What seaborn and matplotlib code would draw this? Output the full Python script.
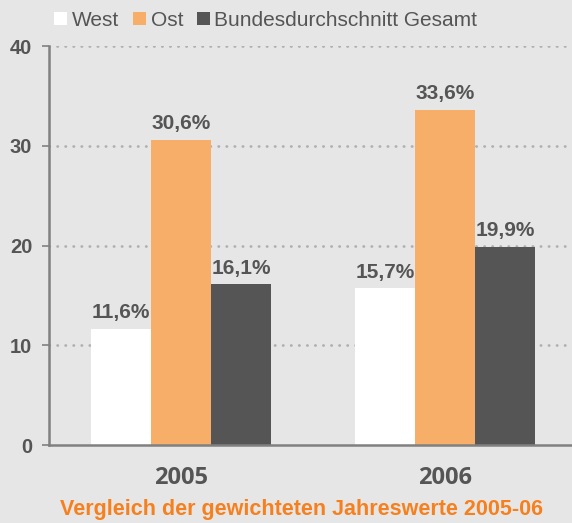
import matplotlib
matplotlib.use("Agg")
import matplotlib.pyplot as plt
import seaborn as sns
import pandas as pd
from matplotlib.patches import Patch

years = ["2005", "2006"]
series = ["West", "Ost", "Bundesdurchschnitt Gesamt"]
west = [11.6, 15.7]
ost = [30.6, 33.6]
gesamt = [16.1, 19.9]
colors = ["#ffffff", "#f7ae68", "#555555"]
title = "Vergleich der gewichteten Jahreswerte 2005-06"

rows = []
for s, vals in zip(series, [west, ost, gesamt]):
    for y, v in zip(years, vals):
        rows.append({"Jahr": y, "Serie": s, "Wert": v})
df = pd.DataFrame(rows)

sns.set_style("white")
plt.rcParams["font.family"] = ["Liberation Sans", "DejaVu Sans"]

bg = "#e6e6e6"
fig = plt.figure(figsize=(5.72, 5.23), dpi=100, facecolor=bg)
ax = fig.add_axes([0.0857, 0.149, 0.9143, 0.763], facecolor=bg)

sns.barplot(data=df, x="Jahr", y="Wert", hue="Serie", order=years,
            hue_order=series, palette=colors, width=0.68, ax=ax,
            saturation=1, linewidth=0, legend=False, zorder=3)

ax.set_ylim(0, 40)
ax.set_xlim(-0.5, 1.48)
ax.set_yticks([0, 10, 20, 30, 40])
for yv in [10, 20, 30, 40]:
    ax.axhline(yv, color="#b0b0b0", linestyle=(0, (0.1, 2.8)), linewidth=2.0,
               zorder=1, dash_capstyle="round")

for cont in ax.containers:
    labels = [f"{b.get_height():.1f}".replace(".", ",") + "%" for b in cont]
    ax.bar_label(cont, labels=labels, padding=5, fontsize=15,
                 fontweight="bold", color="#555555")

for sp in ["top", "right"]:
    ax.spines[sp].set_visible(False)
for sp in ["left", "bottom"]:
    ax.spines[sp].set_color("#808080")
    ax.spines[sp].set_linewidth(1.8)
    ax.spines[sp].set_zorder(4)

ax.tick_params(axis="y", length=5, width=1.2, color="#808080", labelsize=14.5,
               labelcolor="#555555", pad=7, left=True)
ax.tick_params(axis="x", length=0, labelsize=17, labelcolor="#555555", pad=15)
for t in ax.get_yticklabels():
    t.set_fontweight("bold")
for t in ax.get_xticklabels():
    t.set_fontweight("bold")
    t.set_fontfamily(["Open Sans", "DejaVu Sans"])
ax.set_xlabel("")
ax.set_ylabel("")

handles = [Patch(facecolor=c, edgecolor="none") for c in colors]
leg = fig.legend(handles, series, loc="center left", bbox_to_anchor=(0.095, 0.961),
                 ncol=3, frameon=False, fontsize=15, handlelength=0.63,
                 handleheight=0.63, handletextpad=0.22, columnspacing=0.65,
                 labelcolor="#555555", borderaxespad=0, borderpad=0)

fig.text(0.527, 0.025, title, ha="center", va="center", fontsize=15.5,
         fontweight="bold", color="#f7801e")

fig.savefig("out.png", dpi=100, facecolor=bg)
